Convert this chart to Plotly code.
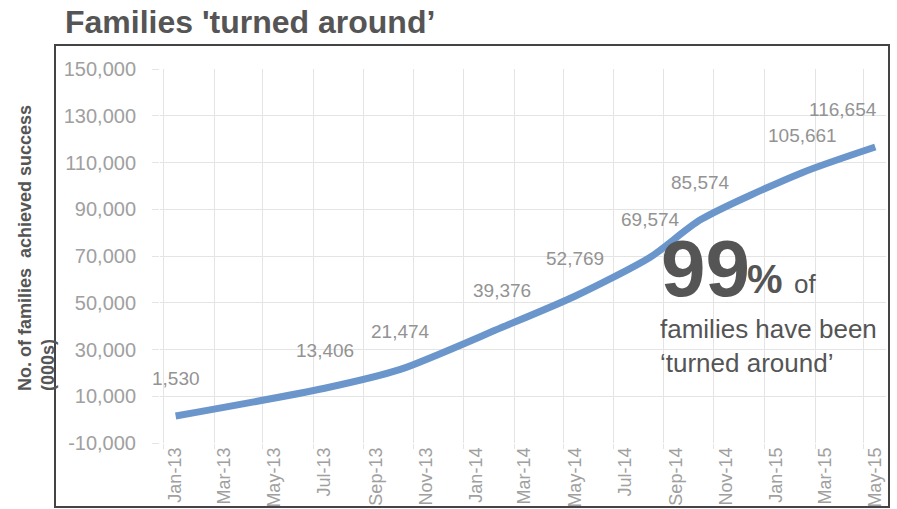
import plotly.graph_objects as go

# ---- data ----
dates = ["2013-01-01", "2013-07-01", "2013-10-01", "2014-02-01", "2014-05-01",
         "2014-08-01", "2014-10-01", "2015-02-01", "2015-05-01"]
values = [1530, 13406, 21474, 39376, 52769, 69574, 85574, 105661, 116654]
point_labels = [f"{v:,}" for v in values]
y_tickvals = [-10000, 10000, 30000, 50000, 70000, 90000, 110000, 130000, 150000]
y_ticktext = [f"{v:,}" for v in y_tickvals]

title_text = "Families 'turned around\u2019"
y_title = "No. of families  achieved success<br>(000s)"

W, H = 897, 509
ML, MR, MT, MB = 160, 11, 69, 66
PW, PH = W - ML - MR, H - MT - MB


def px(x):
    return (x - ML) / PW


def py(y):
    return (H - MB - y) / PH


FONT = "Liberation Sans, Arial, sans-serif"
DARK = "#555555"
LINE = "#6b96cb"
GRID = "#e4e4e4"

fig = go.Figure()
fig.add_trace(go.Scatter(
    x=dates, y=values, mode="lines",
    line=dict(color=LINE, width=7, shape="spline", smoothing=0.7),
    hoverinfo="skip", showlegend=False,
))

annotations = []
for i, (d, v, t) in enumerate(zip(dates, values, point_labels)):
    last = i == len(values) - 1
    annotations.append(dict(
        x=d, y=v, text=t, showarrow=False,
        xanchor="right" if last else "center", yanchor="bottom",
        xshift=4 if last else 0, yshift=25,
        font=dict(family=FONT, size=19, color="#939393"),
    ))

annotations += [
    dict(xref="paper", yref="paper", x=px(63), y=py(22), text=f"<b>{title_text}</b>",
         showarrow=False, xanchor="left", yanchor="middle",
         font=dict(family=FONT, size=32, color=DARK)),
    dict(xref="paper", yref="paper", x=px(36), y=py(248), text=f"<b>{y_title}</b>",
         showarrow=False, xanchor="center", yanchor="middle", textangle=-90, align="left",
         font=dict(family=FONT, size=18, color=DARK)),
    dict(xref="paper", yref="paper", x=px(659), y=py(268), text="<b>99</b>",
         showarrow=False, xanchor="left", yanchor="middle",
         font=dict(family=FONT, size=80, color=DARK)),
    dict(xref="paper", yref="paper", x=px(745), y=py(279), text="<b>%</b>",
         showarrow=False, xanchor="left", yanchor="middle",
         font=dict(family=FONT, size=40, color=DARK)),
    dict(xref="paper", yref="paper", x=px(792), y=py(284), text="of",
         showarrow=False, xanchor="left", yanchor="middle",
         font=dict(family=FONT, size=26, color=DARK)),
    dict(xref="paper", yref="paper", x=px(658), y=py(346),
         text="families have been<br>\u2018turned around\u2019",
         showarrow=False, xanchor="left", yanchor="middle", align="left",
         font=dict(family=FONT, size=26, color=DARK)),
]

fig.update_layout(
    width=W, height=H,
    margin=dict(l=ML, r=MR, t=MT, b=MB, autoexpand=False),
    paper_bgcolor="white", plot_bgcolor="white",
    showlegend=False,
    annotations=annotations,
    shapes=[dict(type="rect", xref="paper", yref="paper",
                 x0=px(55), x1=px(889), y0=py(507), y1=py(45),
                 line=dict(color="#444444", width=2), layer="below")],
    xaxis=dict(
        type="date", range=["2012-12-13", "2015-05-14"], automargin=False,
        tickmode="linear", tick0="2013-01-01", dtick="M2",
        tickformat="%b-%y", tickangle=-90,
        tickfont=dict(family=FONT, size=18, color="#a0a0a0"),
        showgrid=False, zeroline=False, showline=False, ticks="",
        minor=dict(tickmode="linear", tick0="2012-12-17", dtick="M2",
                   showgrid=True, gridcolor=GRID, gridwidth=1,
                   ticks="outside", ticklen=5, tickcolor=GRID),
    ),
    yaxis=dict(
        range=[-10000, 150000], tickmode="array", automargin=False,
        tickvals=y_tickvals, ticktext=y_ticktext,
        tickfont=dict(family=FONT, size=20, color="#a0a0a0"),
        showgrid=True, gridcolor=GRID, gridwidth=1,
        zeroline=False, showline=False,
        ticks="outside", ticklen=7, tickcolor=GRID,
        ticklabelstandoff=12,
    ),
)

fig.write_html("out.html")
